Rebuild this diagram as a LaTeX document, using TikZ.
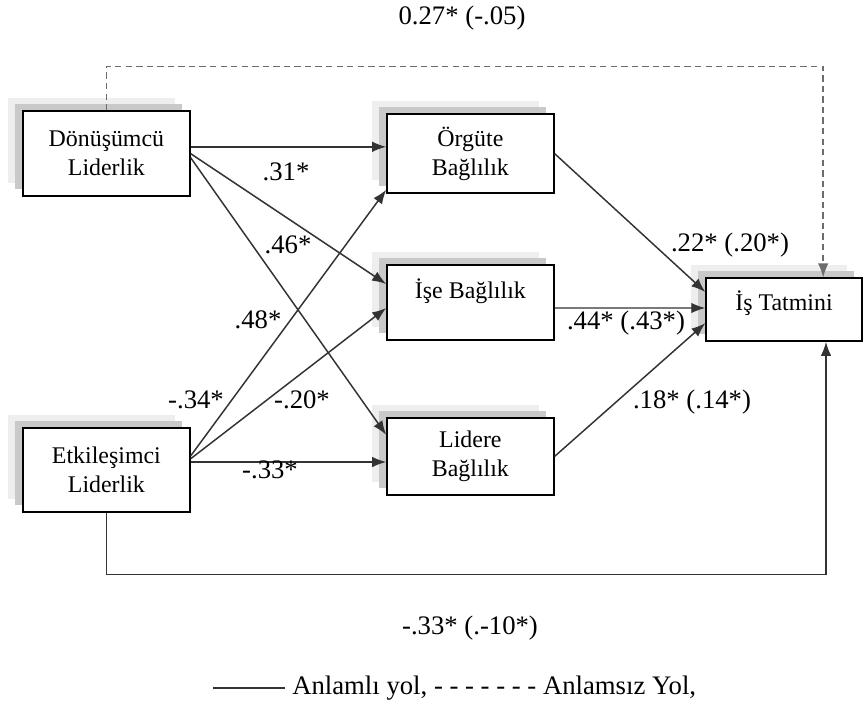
\documentclass[tikz,border=0pt]{standalone}
\usepackage{fontspec}
\setmainfont{Liberation Serif}
\usetikzlibrary{arrows.meta,shadows}

\begin{document}
\begin{tikzpicture}[
  kutu/.style={draw=black,line width=1pt,fill=white,align=center,minimum width=4.175cm,
    font=\fontsize{17}{20.5}\selectfont,
    general shadow={shadow xshift=-0.375cm,shadow yshift=0.325cm,fill=gray!13},
    general shadow={shadow xshift=-0.2cm,shadow yshift=0.175cm,fill=gray!42}},
  yol/.style={black!80,line width=1.05pt,-{Latex[length=10pt,width=7.5pt]}},
  katsayi/.style={font=\fontsize{19}{22}\selectfont,inner sep=0pt}
]
  \useasboundingbox (0,0) rectangle (21.6,-18);

  \node[kutu,minimum height=2.125cm] (don) at (2.66,-3.84) {Dönüşümcü\\Liderlik};
  \node[kutu,minimum height=1.975cm] (org) at (11.76,-3.84) {Örgüte\\Bağlılık};
  \node[kutu,minimum height=1.875cm,text depth=0.7cm] (ise) at (11.76,-7.56) {İşe Bağlılık};
  \node[kutu,minimum height=1.925cm] (lid) at (11.76,-11.41) {Lidere\\Bağlılık};
  \node[kutu,minimum height=2.1cm] (etk) at (2.66,-11.75) {Etkileşimci\\Liderlik};
  \node[kutu,minimum width=3.9cm,minimum height=1.575cm,text depth=0.45cm] (tat) at (19.6,-7.74) {İş Tatmini};

  \draw[yol] ([yshift=0.17cm]don.east) -- ([yshift=0.17cm]org.west);
  \draw[yol] (don.east) -- ([yshift=0.46cm]ise.west);
  \draw[yol] ([yshift=-0.1cm]don.east) -- ([yshift=0.54cm]lid.west);
  \draw[yol] ([yshift=0.35cm]etk.east) -- ([yshift=0.1cm]org.south west);
  \draw[yol] ([yshift=0.28cm]etk.east) -- ([yshift=-0.14cm]ise.west);
  \draw[yol] ([yshift=0.2cm]etk.east) -- ([yshift=-0.14cm]lid.west);
  \draw[yol] (org.east) -- ([yshift=0.44cm]tat.west);
  \draw[yol] ([yshift=-0.14cm]ise.east) -- ([yshift=0.04cm]tat.west);
  \draw[yol] (lid.east) -- ([yshift=-0.34cm]tat.west);
  \draw[yol,gray!85!black,dash pattern=on 4.5pt off 3pt] (don.north) -- ++(0,1.1) -| ([xshift=0.98cm]tat.north);
  \draw[yol] (etk.south) -- ++(0,-1.55) -| ([xshift=1.05cm]tat.south);

  \node[katsayi] (k0) at (11.55,-0.45) {0.27* (-.05)};
  \node[katsayi] (k1) at (7.15,-4.3) {.31*};
  \node[katsayi] (k2) at (7.2,-6.125) {.46*};
  \node[katsayi] (k3) at (6.45,-8.0) {.48*};
  \node[katsayi] (k4) at (4.9,-10.0) {-.34*};
  \node[katsayi] (k5) at (7.55,-10.0) {-.20*};
  \node[katsayi] (k6) at (6.75,-11.75) {-.33*};
  \node[katsayi] (k7) at (18.25,-6.125) {.22* (.20*)};
  \node[katsayi] (k8) at (15.65,-8.075) {.44* (.43*)};
  \node[katsayi] (k9) at (17.3,-10.05) {.18* (.14*)};
  \node[katsayi] (k10) at (11.75,-15.7) {-.33* (.-10*)};

  \node[anchor=west,font=\fontsize{19}{22}\selectfont,inner sep=0pt] (lejant) at (7.3,-17.2) {Anlamlı yol, - - - - - - - Anlamsız Yol,};
  \draw[black!80,line width=1pt] ([xshift=-0.175cm]lejant.west) -- ++(-1.8,0);
\end{tikzpicture}
\end{document}
